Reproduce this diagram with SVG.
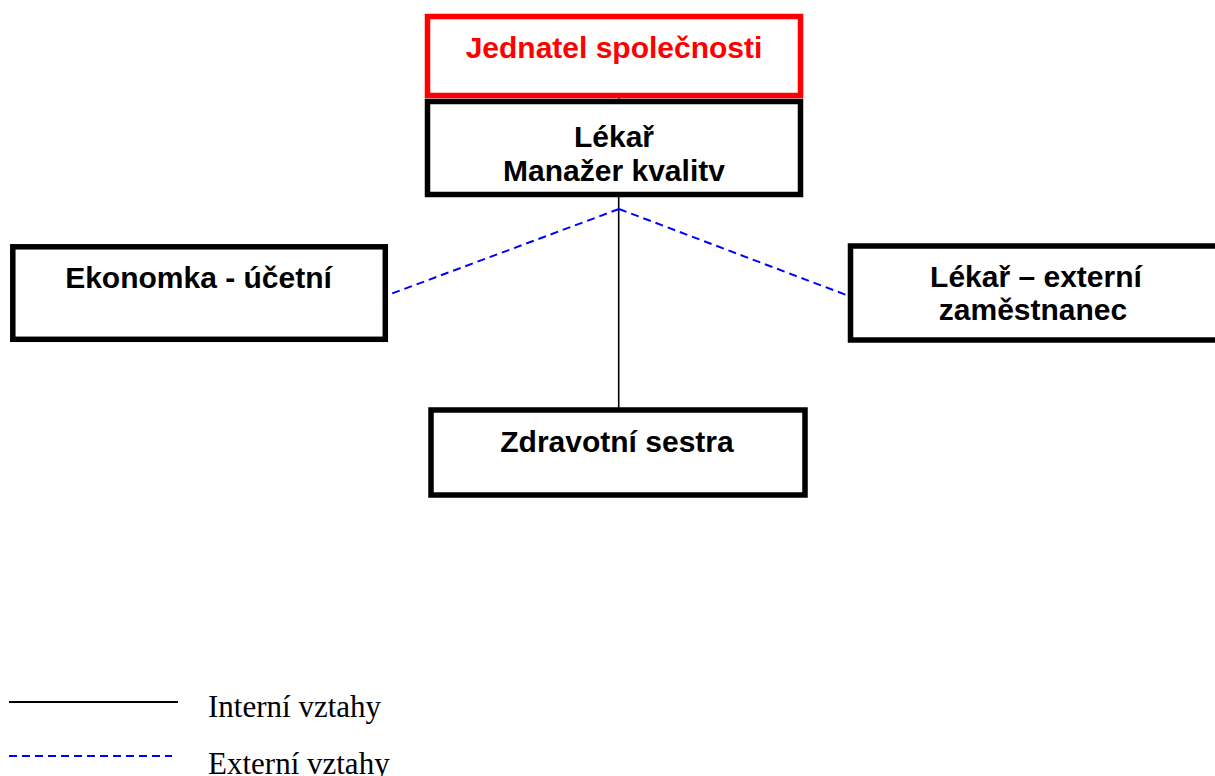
<svg xmlns="http://www.w3.org/2000/svg" width="1215" height="776" viewBox="0 0 1215 776">
  <style>
    .box { fill: #ffffff; stroke: #000000; stroke-width: 5.5; }
    .box-red { fill: #ffffff; stroke: #ff0000; stroke-width: 5.5; }
    .label { font-family: "Liberation Sans", Arial, sans-serif; font-weight: bold; font-size: 30px; text-anchor: middle; fill: #000000; }
    .label-red { fill: #ff0000; }
    .internal { stroke: #000000; stroke-width: 1.6; fill: none; }
    .external { stroke: #0000ff; stroke-width: 2; stroke-dasharray: 8 5; fill: none; }
    .legend-text { font-family: "Liberation Serif", "Times New Roman", serif; font-size: 31px; fill: #000000; }
  </style>

  <rect width="1215" height="776" fill="#ffffff"/>

  <!-- connectors -->
  <g id="connectors">
    <line x1="619" y1="97" x2="619" y2="102" stroke="#ff0000" stroke-width="1.6"/>
    <line class="internal" x1="618.7" y1="196" x2="618.7" y2="408"/>
    <line class="external" x1="619" y1="209" x2="388" y2="295"/>
    <line class="external" x1="619" y1="209" x2="849" y2="296"/>
  </g>

  <g id="node-jednatel">
    <rect class="box-red" x="427.5" y="16.5" width="373" height="79"/>
    <text class="label label-red" x="614" y="58">Jednatel společnosti</text>
  </g>

  <g id="node-lekar-manazer">
    <rect class="box" x="427.5" y="101.5" width="373" height="93"/>
    <text class="label" x="614" y="147">Lékař</text>
    <text class="label" x="614" y="181">Manažer kvalitv</text>
  </g>

  <g id="node-ekonomka">
    <rect class="box" x="12.8" y="246.8" width="372.5" height="92.5"/>
    <text class="label" x="198.5" y="288">Ekonomka - účetní</text>
  </g>

  <g id="node-lekar-externi">
    <rect class="box" x="850.5" y="246" width="372" height="94"/>
    <text class="label" x="1036" y="287">Lékař – externí</text>
    <text class="label" x="1033" y="320">zaměstnanec</text>
  </g>

  <g id="node-sestra">
    <rect class="box" x="431" y="410" width="374" height="85"/>
    <text class="label" x="617" y="452">Zdravotní sestra</text>
  </g>

  <!-- legend -->
  <g id="legend">
    <line x1="9" y1="702" x2="178" y2="702" stroke="#000000" stroke-width="2"/>
    <text class="legend-text" x="208" y="717">Interní vztahy</text>
    <line class="external" x1="9" y1="756" x2="172" y2="756"/>
    <text class="legend-text" x="208" y="774">Externí vztahy</text>
  </g>
</svg>
